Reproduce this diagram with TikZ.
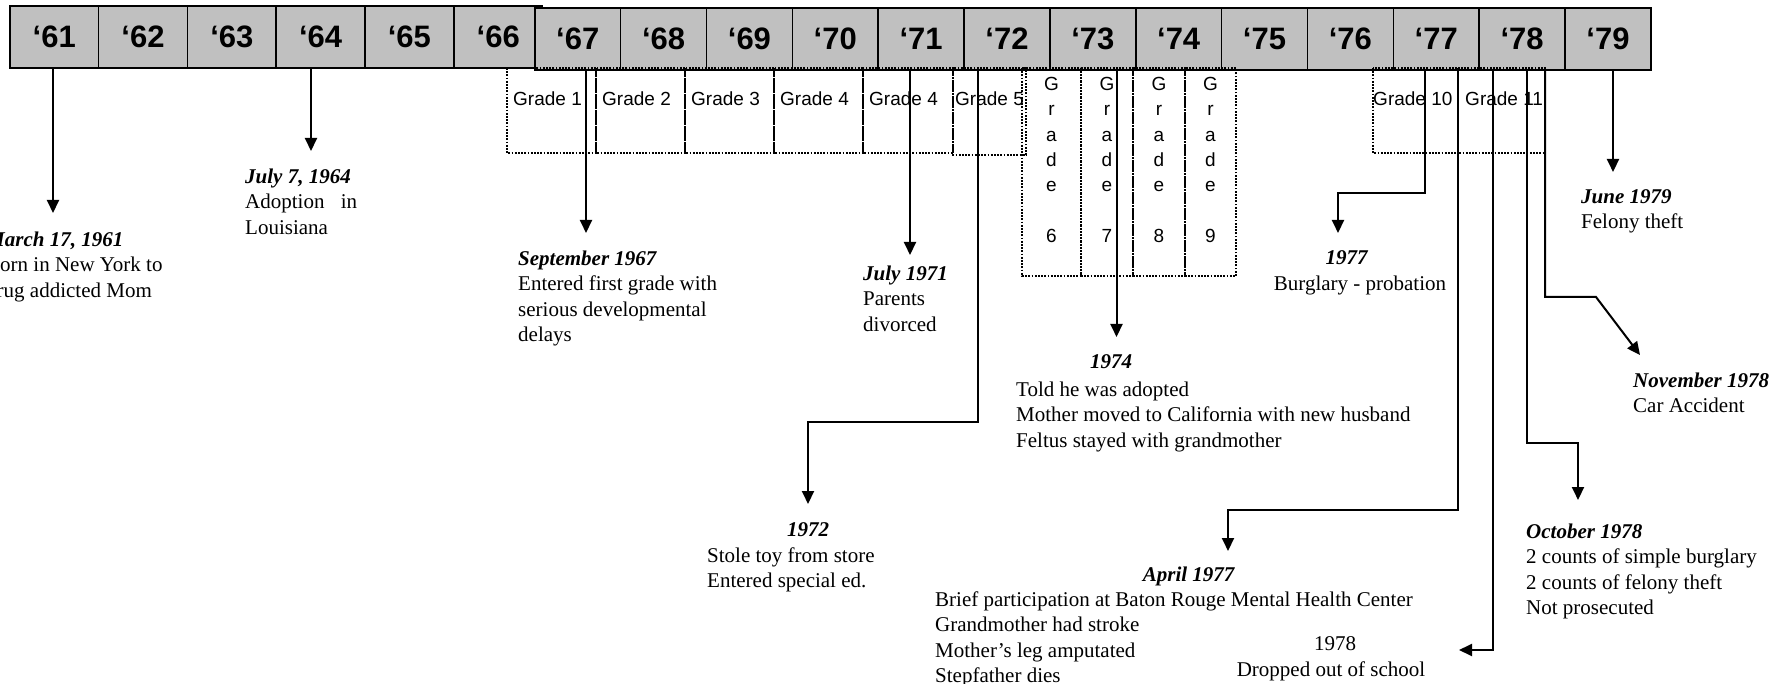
\documentclass[tikz,border=0pt]{standalone}
\usepackage{fontspec}
\setmainfont{Liberation Serif}
\newfontfamily\arialfont{Liberation Sans}
\usetikzlibrary{arrows.meta}
\definecolor{yeargray}{RGB}{192,192,192}
\newcommand{\evdate}[1]{\textbf{\textit{#1}}}
\tikzstyle{yearbox}=[rectangle, draw=black, fill=yeargray,
                     line width=1.6pt, inner sep=0pt,
                     minimum height=62pt, anchor=north west,
                     font=\arialfont\bfseries\fontsize{31}{31}\selectfont]
\tikzstyle{gradebox}=[line width=2pt, dash pattern=on 1.8pt off 1.4pt]

\begin{document}
\begin{tikzpicture}[x=1pt,y=-1pt]
  \tikzstyle{gradelabel}=[inner sep=0pt, font=\arialfont\fontsize{19}{25.3}\selectfont]
  \tikzstyle{eventtext}=[inner sep=0pt, anchor=north west, align=left,
                         font=\fontsize{21}{25.5}\selectfont]
  \tikzstyle{datehead}=[inner sep=0pt, text height=14pt, text depth=0pt,
                        font=\fontsize{21}{25.5}\selectfont]
  \tikzstyle{evarrow}=[line width=2pt, -{Triangle[length=13pt,width=12pt]}]
  \useasboundingbox (0,0) rectangle (1777,684);
  \clip (0,0) rectangle (1777,684);
  \foreach \yr [count=\i from 0] in {61,...,66}
    \node[yearbox, minimum width=88.8pt] (y\yr) at (9+\i*88.8,5) {‘\yr};
  \foreach \yr [count=\i from 0] in {67,...,79}
    \node[yearbox, minimum width=85.85pt] (y\yr) at (534+\i*85.85,7.3) {‘\yr};
  \foreach \gl/\gr/\gn [count=\i] in {507/596/1, 596/685/2, 685/774/3, 774/863/4, 863/953/4} {
    \draw[gradebox] (\gl,68) rectangle (\gr,153);
    \node[gradelabel, anchor=west] (gh\i) at (\gl+6,99) {Grade \gn};
  }
  \draw[gradebox] (953,68) rectangle (1026,155);
  \node[gradelabel, anchor=west] (gh5) at (955,99) {Grade 5};
  \foreach \gl/\gr/\gn in {1022/1081/6, 1081/1133/7, 1133/1185/8, 1185/1236/9} {
    \draw[gradebox] (\gl,68) rectangle (\gr,276);
    \node[gradelabel, anchor=north, align=center] (gv\gn) at ({(\gl+\gr)/2},77) {G\\r\\a\\d\\e\\[25.3pt]\gn};
  }
  \draw[gradebox] (1373,68) rectangle (1458,153);
  \draw[gradebox] (1458,68) rectangle (1545,153);
  \node[gradelabel, anchor=west] (gh10) at (1373,99) {Grade 10};
  \node[gradelabel, anchor=west] (gh11) at (1465,99) {Grade 11};

  \node[eventtext] (n61) at (-14,228) {\strut\evdate{March 17, 1961}\\Born in New York to\\drug addicted Mom};
  \node[eventtext] (n64) at (245,165) {\strut\evdate{July 7, 1964}\\\makebox[112pt][s]{Adoption in}\\Louisiana};
  \node[eventtext] (n67) at (518,247) {\strut\evdate{September 1967}\\Entered first grade with\\serious developmental\\delays};
  \node[eventtext] (n71) at (863,262) {\strut\evdate{July 1971}\\Parents\\divorced};
  \node[datehead] (h72) at (808,529) {\evdate{1972}};
  \node[eventtext] (n72) at (707,544) {\strut Stole toy from store\\Entered special ed.};
  \node[datehead] (h74) at (1111,362) {\evdate{1974}};
  \node[eventtext] (n74) at (1016,378) {\strut Told he was adopted\\Mother moved to California with new husband\\Feltus stayed with grandmother};
  \node[datehead] (h77) at (1347,258) {\evdate{1977}};
  \node[datehead] (n77) at (1360,284) {Burglary - probation};
  \node[datehead] (h77b) at (1189,574) {\evdate{April 1977}};
  \node[eventtext] (n77b) at (935,588) {\strut Brief participation at Baton Rouge Mental Health Center\\Grandmother had stroke\\Mother’s leg amputated\\Stepfather dies};
  \node[datehead] (h78a) at (1335,643) {1978};
  \node[datehead] (n78a) at (1331,669) {Dropped out of school};
  \node[eventtext] (n78b) at (1526,520) {\strut\evdate{October 1978}\\2 counts of simple burglary\\2 counts of felony theft\\Not prosecuted};
  \node[eventtext] (n78c) at (1633,369) {\strut\evdate{November 1978}\\Car Accident};
  \node[eventtext] (n79) at (1581,185) {\strut\evdate{June 1979}\\Felony theft};

  \coordinate (t61) at (53,213);
  \coordinate (t64) at (311,151);
  \coordinate (t67) at (586,233);
  \coordinate (t71) at (910,255);
  \coordinate (b72) at (978,422);
  \coordinate (t72) at (808,504);
  \coordinate (t73) at (1116.5,337);
  \coordinate (b77) at (1425,193);
  \coordinate (t77) at (1338,233);
  \coordinate (b77b) at (1458,510);
  \coordinate (t77b) at (1228,551);
  \coordinate (b78a) at (1493,650);
  \coordinate (t78a) at (1459,650);
  \coordinate (b78b) at (1527,443);
  \coordinate (t78b) at (1578,500);
  \coordinate (b78c) at (1545,297);
  \coordinate (k78c) at (1596,297);
  \coordinate (t78c) at (1640,355);
  \coordinate (t79) at (1613,172);
  \draw[evarrow] (y61.south -| t61) -- (t61);
  \draw[evarrow] (y64.south -| t64) -- (t64);
  \draw[evarrow] (y67.south -| t67) -- (t67);
  \draw[evarrow] (y71.south -| t71) -- (t71);
  \draw[evarrow] (y72.south -| b72) -- (b72) -| (t72);
  \draw[evarrow] (y73.south -| t73) -- (t73);
  \draw[evarrow] (y77.south -| b77) -- (b77) -| (t77);
  \draw[evarrow] (y77.south -| b77b) -- (b77b) -| (t77b);
  \draw[evarrow] (y78.south -| b78a) -- (b78a) -- (t78a);
  \draw[evarrow] (y78.south -| b78b) -- (b78b) -| (t78b);
  \draw[evarrow] (y78.south -| b78c) -- (b78c) -- (k78c) -- (t78c);
  \draw[evarrow] (y79.south -| t79) -- (t79);
\end{tikzpicture}
\end{document}
